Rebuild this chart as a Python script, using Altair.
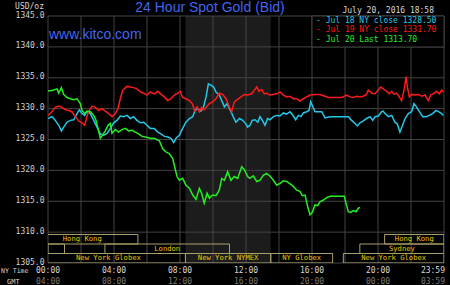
import altair as alt
import pandas as pd

# ---------------- data ----------------
SERIES_NAMES = ["Jul 18", "Jul 19", "Jul 20"]
SERIES_COLORS = ["#22c8e8", "#ff1a1a", "#22ee22"]
LEGEND_LABELS = ["- Jul 18 NY close 1328.50",
                 "- Jul 19 NY close 1331.70",
                 "- Jul 20 Last 1313.70"]

JUL18_HOURS = [0.00, 0.24, 0.44, 0.65, 0.81, 0.95, 1.15, 1.35, 1.56, 1.76, 1.90, 2.06, 2.22, 2.36,
               2.57, 2.77, 2.97, 3.17, 3.37, 3.58, 3.78, 3.98, 4.18, 4.38, 4.59, 4.79, 4.99, 5.19,
               5.39, 5.60, 5.80, 6.00, 6.20, 6.44, 6.65, 6.85, 7.05, 7.25, 7.45, 7.62, 7.76, 7.96,
               8.16, 8.36, 8.57, 8.77, 8.91, 9.07, 9.27, 9.43, 9.58, 9.72, 9.88, 10.04, 10.18, 10.38,
               10.53, 10.69, 10.85, 11.05, 11.19, 11.39, 11.60, 11.80, 12.00, 12.10, 12.24, 12.38,
               12.55, 12.71, 12.85, 12.99, 13.15, 13.31, 13.45, 13.66, 13.86, 14.06, 14.26, 14.46,
               14.67, 14.87, 15.01, 15.17, 15.33, 15.47, 15.68, 15.82, 15.92, 16.02, 16.18, 16.38,
               16.59, 16.79, 17.09, 17.49, 17.90, 18.00, 18.20, 18.40, 18.61, 18.75, 18.91, 19.11,
               19.31, 19.52, 19.68, 19.82, 20.02, 20.22, 20.32, 20.42, 20.63, 20.83, 21.03, 21.17,
               21.33, 21.49, 21.64, 21.84, 22.04, 22.18, 22.30, 22.51, 22.71, 22.91, 23.11, 23.31,
               23.52, 23.66, 23.86, 23.96]
JUL18_PRICE = [1328.4, 1328.7, 1328.1, 1327.3, 1326.4, 1327.0, 1327.8, 1328.1, 1328.2, 1329.2, 1329.8,
               1329.2, 1328.9, 1329.5, 1329.2, 1328.1, 1327.0, 1325.9, 1325.7, 1326.0, 1326.8, 1327.7,
               1328.1, 1328.8, 1328.7, 1328.9, 1328.4, 1328.7, 1328.1, 1327.7, 1327.8, 1327.3, 1326.8,
               1326.8, 1326.2, 1325.9, 1325.5, 1325.4, 1325.2, 1324.5, 1325.2, 1325.7, 1326.8, 1327.8,
               1328.4, 1328.7, 1329.7, 1330.0, 1329.6, 1330.3, 1331.9, 1334.0, 1333.8, 1333.5, 1332.7,
               1332.2, 1331.3, 1330.3, 1330.8, 1329.7, 1328.9, 1327.8, 1328.4, 1328.1, 1327.5, 1327.0,
               1327.3, 1328.1, 1328.2, 1327.8, 1328.7, 1328.1, 1327.3, 1328.4, 1328.2, 1328.7, 1328.9,
               1328.8, 1329.3, 1329.1, 1329.5, 1328.8, 1328.2, 1328.9, 1328.7, 1329.3, 1329.5, 1329.7,
               1331.1, 1330.5, 1329.5, 1329.5, 1329.5, 1328.5, 1328.7, 1328.7, 1328.7, 1328.7, 1328.7,
               1328.1, 1327.6, 1327.2, 1327.7, 1328.0, 1328.4, 1328.7, 1328.1, 1328.7, 1328.8, 1329.5,
               1329.6, 1329.2, 1328.7, 1328.9, 1327.8, 1327.5, 1326.2, 1327.3, 1328.4, 1329.2, 1329.5,
               1330.8, 1330.4, 1329.5, 1328.7, 1328.7, 1328.9, 1329.2, 1329.7, 1329.5, 1329.2, 1328.9]

JUL19_HOURS = [0.00, 0.24, 0.44, 0.65, 0.85, 1.05, 1.25, 1.45, 1.66, 1.86, 2.06, 2.22, 2.36, 2.46,
               2.67, 2.87, 3.07, 3.27, 3.47, 3.68, 3.88, 4.08, 4.24, 4.38, 4.53, 4.79, 4.99, 5.19,
               5.39, 5.60, 5.80, 6.00, 6.20, 6.44, 6.65, 6.85, 7.05, 7.25, 7.45, 7.66, 7.86, 8.02,
               8.16, 8.36, 8.57, 8.77, 8.87, 9.03, 9.17, 9.31, 9.47, 9.64, 9.78, 9.98, 10.18, 10.38,
               10.59, 10.79, 10.99, 11.13, 11.29, 11.49, 11.70, 11.90, 12.10, 12.34, 12.51, 12.65,
               12.79, 12.95, 13.11, 13.25, 13.45, 13.66, 13.86, 14.06, 14.26, 14.46, 14.67, 14.87,
               15.07, 15.27, 15.47, 15.68, 15.88, 16.18, 16.48, 16.79, 16.99, 17.39, 17.80, 18.10,
               18.30, 18.51, 18.71, 18.91, 19.11, 19.31, 19.41, 19.62, 19.82, 20.02, 20.16, 20.32,
               20.53, 20.69, 20.83, 20.97, 21.13, 21.29, 21.43, 21.58, 21.70, 21.78, 21.90, 22.04,
               22.24, 22.44, 22.65, 22.85, 23.05, 23.19, 23.35, 23.56, 23.72, 23.86, 23.96]
JUL19_PRICE = [1328.9, 1329.5, 1330.2, 1330.4, 1330.2, 1329.8, 1329.7, 1329.5, 1328.7, 1328.0, 1327.7,
               1327.3, 1328.7, 1329.5, 1330.4, 1330.2, 1329.7, 1330.0, 1329.6, 1329.2, 1328.7, 1329.2,
               1330.0, 1331.6, 1333.0, 1333.6, 1333.5, 1333.4, 1333.2, 1332.7, 1332.5, 1332.2, 1332.7,
               1332.4, 1332.8, 1332.3, 1331.9, 1331.3, 1331.6, 1332.2, 1332.5, 1332.8, 1331.8, 1331.6,
               1331.3, 1330.7, 1329.7, 1330.3, 1329.5, 1330.2, 1329.8, 1330.4, 1330.8, 1331.1, 1331.6,
               1332.5, 1332.3, 1331.6, 1330.3, 1329.5, 1331.1, 1331.5, 1331.9, 1332.3, 1332.2, 1332.4,
               1333.0, 1333.5, 1332.8, 1333.1, 1332.4, 1332.5, 1332.2, 1332.3, 1332.4, 1332.7, 1332.2,
               1331.9, 1332.0, 1331.6, 1331.6, 1331.2, 1331.6, 1331.9, 1332.2, 1332.3, 1332.3, 1332.0,
               1331.8, 1331.8, 1331.8, 1332.2, 1331.9, 1331.8, 1332.0, 1331.9, 1332.0, 1332.3, 1333.0,
               1332.5, 1332.4, 1333.0, 1333.5, 1333.2, 1332.8, 1332.4, 1332.8, 1332.3, 1332.5, 1331.9,
               1331.3, 1333.0, 1335.2, 1333.5, 1331.9, 1332.3, 1332.2, 1332.3, 1332.0, 1332.2, 1331.3,
               1332.2, 1332.4, 1332.8, 1332.4, 1333.0, 1332.7]

JUL20_HOURS = [0.00, 0.24, 0.55, 0.65, 0.81, 0.95, 1.15, 1.35, 1.56, 1.76, 1.96, 2.06, 2.22, 2.36,
               2.57, 2.77, 2.91, 3.03, 3.17, 3.31, 3.47, 3.64, 3.78, 3.88, 4.08, 4.28, 4.48, 4.69,
               4.89, 5.09, 5.29, 5.49, 5.70, 5.90, 6.20, 6.44, 6.75, 6.95, 7.15, 7.35, 7.56, 7.70,
               7.82, 7.96, 8.16, 8.36, 8.57, 8.77, 8.97, 9.17, 9.31, 9.47, 9.64, 9.78, 9.98, 10.18,
               10.38, 10.53, 10.69, 10.89, 11.09, 11.29, 11.49, 11.74, 11.90, 12.10, 12.24, 12.44,
               12.65, 12.85, 13.05, 13.25, 13.45, 13.66, 13.86, 14.06, 14.26, 14.46, 14.67, 14.87,
               15.07, 15.27, 15.41, 15.58, 15.74, 15.88, 16.02, 16.18, 16.34, 16.48, 16.69, 16.89,
               17.09, 17.49, 17.96, 18.06, 18.20, 18.34, 18.51, 18.67, 18.81, 18.91]
JUL20_PRICE = [1332.85, 1332.95, 1333.2, 1332.5, 1333.4, 1332.3, 1331.8, 1331.6, 1331.45, 1331.6,
               1330.8, 1329.7, 1329.2, 1329.6, 1329.5, 1328.9, 1328.1, 1326.8, 1325.2, 1325.7, 1326.4,
               1327.3, 1327.6, 1326.0, 1326.6, 1326.2, 1326.6, 1326.8, 1326.4, 1326.5, 1326.2, 1325.9,
               1325.5, 1325.4, 1325.2, 1325.2, 1324.8, 1323.5, 1323.0, 1322.7, 1321.9, 1320.3, 1319.0,
               1318.4, 1318.7, 1317.6, 1317.1, 1316.0, 1315.3, 1317.1, 1316.3, 1314.7, 1316.3, 1315.5,
               1316.0, 1315.9, 1316.8, 1318.7, 1318.4, 1319.8, 1318.4, 1319.0, 1318.7, 1320.6, 1320.1,
               1319.0, 1318.7, 1319.1, 1318.2, 1318.4, 1319.2, 1319.5, 1319.1, 1318.4, 1317.6, 1317.9,
               1318.3, 1318.2, 1317.8, 1317.4, 1316.8, 1316.6, 1315.9, 1316.0, 1314.1, 1312.8, 1313.2,
               1314.4, 1314.3, 1314.9, 1315.2, 1315.6, 1315.8, 1315.8, 1315.8, 1314.7, 1313.3, 1313.2,
               1313.5, 1313.3, 1313.9, 1314.0]

Y_TICKS = [1305, 1310, 1315, 1320, 1325, 1330, 1335, 1340, 1345]
X_GRID_HOURS = [0, 2, 4, 6, 8, 10, 12, 14, 16, 18, 20, 22, 24]
X_LABEL_HOURS = [0, 4, 8, 12, 16, 20, 24]
NY_LABELS = ["00:00", "04:00", "08:00", "12:00", "16:00", "20:00", "23:59"]
GMT_LABELS = ["04:00", "08:00", "12:00", "16:00", "20:00", "00:00", "03:59"]

SESSION_NAMES = ["Hong Kong", "Hong Kong", "", "London", "Sydney",
                 "New York Globex", "New York NYMEX", "NY Globex", "New York Globex"]
SESSION_START = [-1.3, 20.4, 0.0, 3.45, 18.9, -1.0, 8.33, 13.5, 17.9]
SESSION_END = [5.45, 24.0, 1.0, 11.0, 24.0, 8.33, 13.5, 17.25, 24.0]
SESSION_ROW = [0, 0, 1, 1, 1, 2, 2, 2, 2]

COMEX_START = 8 + 20 / 60
COMEX_END = 13.5

TITLE = "24 Hour Spot Gold (Bid)"
SITE = "www.kitco.com"
STAMP = "July 20, 2016 18:58"
UNIT = "USD/oz"

# ---------------- layout / style ----------------
W, H = 396, 247
Y_MIN, Y_MAX = 1305, 1345
MONO = "DejaVu Sans Mono"
SANS = "Liberation Sans"
GRID = "#444444"

xs = alt.Scale(domain=[0, 24], nice=False, zero=False)
ys = alt.Scale(domain=[Y_MIN, Y_MAX], nice=False, zero=False)
Y_AXIS = alt.Axis(values=Y_TICKS, format=".1f", grid=False, ticks=False,
                  domain=False, labelFont=MONO, labelFontSize=8,
                  labelColor="#d0d0d0", labelPadding=4, labelOffset=-1, title=None)

recs = []
for name, hs, vs in zip(SERIES_NAMES, [JUL18_HOURS, JUL19_HOURS, JUL20_HOURS],
                        [JUL18_PRICE, JUL19_PRICE, JUL20_PRICE]):
    recs += [{"series": name, "hour": h, "price": v} for h, v in zip(hs, vs)]
lines_df = pd.DataFrame(recs)

one = pd.DataFrame({"k": [0]})

shade = alt.Chart(pd.DataFrame({"s": [COMEX_START], "e": [COMEX_END]})).mark_rect(
    color="#1c1c1c").encode(
    x=alt.X("s:Q", scale=xs, axis=None), x2="e:Q",
    y=alt.value(0), y2=alt.value(H))

vgrid = alt.Chart(pd.DataFrame({"h": X_GRID_HOURS})).mark_rule(
    color=GRID, strokeWidth=1).encode(x=alt.X("h:Q", scale=xs, axis=None))

hgrid = alt.Chart(pd.DataFrame({"v": Y_TICKS})).mark_rule(
    color=GRID, strokeWidth=1).encode(y=alt.Y("v:Q", scale=ys, axis=Y_AXIS))

ROW_TOP = 218.5
ROW_H = 9.5
p2v = (Y_MAX - Y_MIN) / H
sess_df = pd.DataFrame({"name": SESSION_NAMES, "start": SESSION_START,
                        "end": SESSION_END, "row": SESSION_ROW})
sess_base = alt.Chart(sess_df).transform_calculate(
    top=f"{Y_MAX} - ({ROW_TOP} + datum.row * {ROW_H}) * {p2v}",
    bot=f"{Y_MAX} - ({ROW_TOP} + (datum.row + 1) * {ROW_H}) * {p2v}",
    mid=f"{Y_MAX} - ({ROW_TOP} + (datum.row + 0.5) * {ROW_H}) * {p2v}",
    xmid="(datum.start + datum.end) / 2")
sess_box = sess_base.mark_rect(fillOpacity=0, stroke="#a89f6a", strokeWidth=1, clip=True).encode(
    x=alt.X("start:Q", scale=xs, axis=None), x2="end:Q",
    y=alt.Y("top:Q", scale=ys, axis=Y_AXIS), y2="bot:Q")
sess_txt = sess_base.mark_text(font=MONO, fontSize=7.2, color="#e8c400",
                               baseline="middle", align="center").encode(
    x=alt.X("xmid:Q", scale=xs, axis=None),
    y=alt.Y("mid:Q", scale=ys, axis=Y_AXIS), text="name:N")

legend_box = alt.Chart(one).mark_rect(fill="#000000", stroke=GRID, strokeWidth=1).encode(
    x=alt.value(264), x2=alt.value(396), y=alt.value(0), y2=alt.value(31))

legend_txt = []
for i, (lab, col) in enumerate(zip(LEGEND_LABELS, SERIES_COLORS)):
    legend_txt.append(
        alt.Chart(pd.DataFrame({"t": [lab]})).mark_text(
            font=MONO, fontSize=8, color=col, align="left", baseline="middle").encode(
            x=alt.value(268), y=alt.value(5 + i * 9.3), text="t:N"))

lines = alt.Chart(lines_df).mark_line(strokeWidth=1.5, clip=True).encode(
    x=alt.X("hour:Q", scale=xs, axis=None),
    y=alt.Y("price:Q", scale=ys, axis=Y_AXIS),
    color=alt.Color("series:N", scale=alt.Scale(domain=SERIES_NAMES, range=SERIES_COLORS),
                    legend=None),
    order=alt.Order("hour:Q"))

NY_Y = 254.5
GMT_Y = 265.5
lab_df = pd.DataFrame({"h": X_LABEL_HOURS, "ny": NY_LABELS, "gmt": GMT_LABELS})
lab_base = alt.Chart(lab_df)
ny_mid = lab_base.transform_filter("datum.h < 24").mark_text(
    font=MONO, fontSize=8, color="#d8d8d8", baseline="middle", align="center").encode(
    x=alt.X("h:Q", scale=xs, axis=None), y=alt.value(NY_Y), text="ny:N")
ny_end = lab_base.transform_filter("datum.h >= 24").mark_text(
    font=MONO, fontSize=8, color="#d8d8d8", baseline="middle", align="right", dx=1).encode(
    x=alt.X("h:Q", scale=xs, axis=None), y=alt.value(NY_Y), text="ny:N")
gmt_mid = lab_base.transform_filter("datum.h < 24").mark_text(
    font=MONO, fontSize=8, color="#7c7c7c", baseline="middle", align="center").encode(
    x=alt.X("h:Q", scale=xs, axis=None), y=alt.value(GMT_Y), text="gmt:N")
gmt_end = lab_base.transform_filter("datum.h >= 24").mark_text(
    font=MONO, fontSize=8, color="#7c7c7c", baseline="middle", align="right", dx=1).encode(
    x=alt.X("h:Q", scale=xs, axis=None), y=alt.value(GMT_Y), text="gmt:N")


def label(text, x, y, **kw):
    return alt.Chart(pd.DataFrame({"t": [text]})).mark_text(baseline="middle", **kw).encode(
        x=alt.value(x), y=alt.value(y), text="t:N")


title = label(TITLE, 162, -8.5, font=SANS, fontSize=14, color="#4466ee", align="center")
site = label(SITE, 1, 19, font=SANS, fontSize=14, color="#4466ee", align="left")
stamp = label(STAMP, 386, -5, font=MONO, fontSize=8, color="#d8d8d8", align="right")
unit = label(UNIT, -4, -9.5, font=MONO, fontSize=8, color="#d8d8d8", align="right")
nytime = label("NY Time", -47, NY_Y, font=MONO, fontSize=6.5, color="#d8d8d8", align="left")
gmt = label("GMT", -41, GMT_Y, font=MONO, fontSize=7, color="#d8d8d8", align="left")

chart = alt.layer(
    shade, vgrid, hgrid, sess_box, sess_txt, legend_box, *legend_txt, lines,
    ny_mid, ny_end, gmt_mid, gmt_end, title, site, stamp, unit, nytime, gmt
).properties(
    width=W, height=H, background="#000000",
    autosize=alt.AutoSizeParams(type="none"),
    padding={"left": 48, "top": 16, "right": 6, "bottom": 22}
).configure_view(strokeWidth=0)

chart.save("out.html", embed_options={"renderer": "svg", "actions": False})
